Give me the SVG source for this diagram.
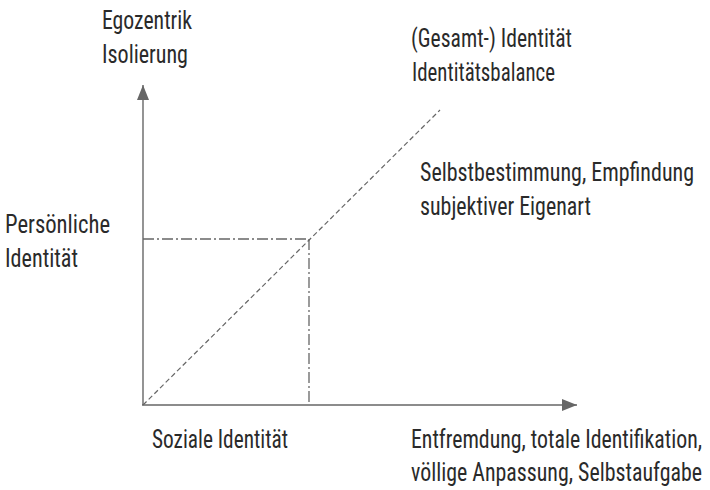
<svg xmlns="http://www.w3.org/2000/svg" width="710" height="490" viewBox="0 0 710 490">
<style>
.t{font-family:"Liberation Sans Narrow","Roboto Condensed",Roboto,"Liberation Sans",Arial,sans-serif;font-size:25px;font-weight:400;fill:#2a2a2a}
.ax{stroke:#666;stroke-width:1.4;fill:none}
.dash{stroke:#666;stroke-width:1.2;fill:none;stroke-dasharray:5 3}
.dd{stroke:#666;stroke-width:1.3;fill:none;stroke-dasharray:11 3 2 3}
</style>
<defs>
<marker id="arr" viewBox="0 0 15 12" refX="15" refY="6" markerWidth="15" markerHeight="12" markerUnits="userSpaceOnUse" orient="auto">
<path d="M0,0 L15,6 L0,12 Z" fill="#666"/>
</marker>
</defs>
<rect width="710" height="490" fill="#fff"/>
<g id="connectors">
<line class="ax" x1="143" y1="405" x2="143" y2="85" marker-end="url(#arr)"/>
<line class="ax" x1="142" y1="405" x2="577" y2="405" marker-end="url(#arr)"/>
<line class="dash" x1="143" y1="405" x2="440" y2="110"/>
<line class="dd" x1="143" y1="239" x2="309" y2="239"/>
<line class="dd" x1="309" y1="239" x2="309" y2="405"/>
</g>
<g id="label-egozentrik">
<text class="t" x="102" y="29" textLength="90" lengthAdjust="spacingAndGlyphs">Egozentrik</text>
<text class="t" x="102" y="63" textLength="86" lengthAdjust="spacingAndGlyphs">Isolierung</text>
</g>
<g id="label-gesamt">
<text class="t" x="411" y="47" textLength="161" lengthAdjust="spacingAndGlyphs">(Gesamt-) Identität</text>
<text class="t" x="412" y="81" textLength="143" lengthAdjust="spacingAndGlyphs">Identitätsbalance</text>
</g>
<g id="label-selbst">
<text class="t" x="420" y="181" textLength="274" lengthAdjust="spacingAndGlyphs">Selbstbestimmung, Empfindung</text>
<text class="t" x="420" y="215" textLength="171" lengthAdjust="spacingAndGlyphs">subjektiver Eigenart</text>
</g>
<g id="label-persoenlich">
<text class="t" x="5" y="233" textLength="105" lengthAdjust="spacingAndGlyphs">Persönliche</text>
<text class="t" x="5" y="267" textLength="73" lengthAdjust="spacingAndGlyphs">Identität</text>
</g>
<g id="label-sozial">
<text class="t" x="152" y="448" textLength="136" lengthAdjust="spacingAndGlyphs">Soziale Identität</text>
</g>
<g id="label-entfremdung">
<text class="t" x="411" y="448" textLength="291" lengthAdjust="spacingAndGlyphs">Entfremdung, totale Identifikation,</text>
<text class="t" x="411" y="481" textLength="291" lengthAdjust="spacingAndGlyphs">völlige Anpassung, Selbstaufgabe</text>
</g>
</svg>
